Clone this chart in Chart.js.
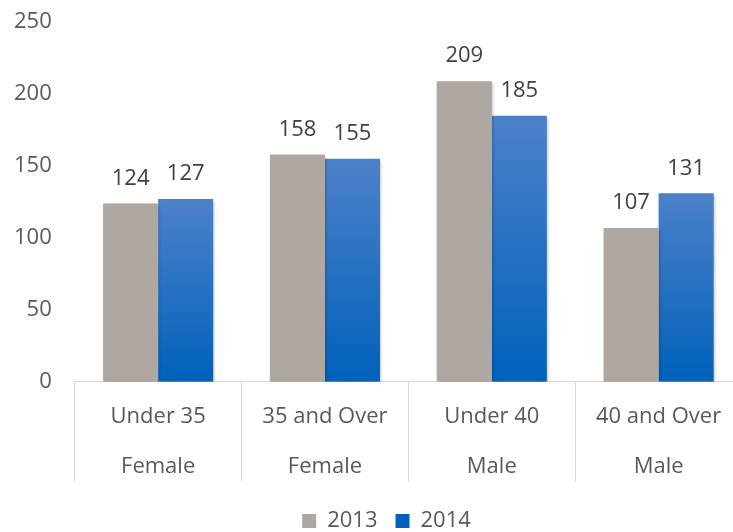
<!DOCTYPE html>
<html>
<head>
<meta charset="utf-8">
<title>Bar chart 2013 vs 2014</title>
<script src="https://cdn.jsdelivr.net/npm/chart.js"></script>
<style>
  html, body { margin: 0; padding: 0; background: #fff; overflow: hidden; }
  #wrap { width: 733px; height: 532px; overflow: hidden; }
</style>
</head>
<body>
<div id="wrap">
  <canvas id="ageChart" width="776" height="532"></canvas>
</div>
<script>
// data
const ageGroups = ['Under 35', '35 and Over', 'Under 40', '40 and Over'];
const genders = ['Female', 'Female', 'Male', 'Male'];
const seriesNames = ['2013', '2014'];
const values2013 = [124, 158, 209, 107];
const values2014 = [127, 155, 185, 131];
const yMin = 0, yMax = 250, yStep = 50;

const labels = ageGroups.map((g, i) => [g, genders[i]]);

const grayBar = '#aea7a2';
const blueTop = '#4c81c9';
const blueBottom = '#0061bb';
const fontSize = 22;

// each blue bar gets its own vertical gradient (light at the top)
function blueFill(context) {
  const chart = context.chart;
  if (context.type !== 'data' || !chart.chartArea) return '#1e66c1';
  const y = chart.scales.y;
  const top = y.getPixelForValue(context.parsed.y);
  const bottom = y.getPixelForValue(0);
  const g = chart.ctx.createLinearGradient(0, top, 0, bottom);
  g.addColorStop(0, blueTop);
  g.addColorStop(1, blueBottom);
  return g;
}

// soft drop shadow under the bars
const barShadow = {
  id: 'barShadow',
  beforeDatasetsDraw(chart) {
    const ctx = chart.ctx;
    ctx.save();
    ctx.shadowColor = 'rgba(0, 0, 0, 0.3)';
    ctx.shadowBlur = 3;
    ctx.shadowOffsetX = 1;
    ctx.shadowOffsetY = 2;
  },
  afterDatasetsDraw(chart) {
    chart.ctx.restore();
  }
};

// value labels above each bar
const valueLabels = {
  id: 'valueLabels',
  afterDatasetsDraw(chart) {
    const ctx = chart.ctx;
    ctx.save();
    ctx.font = fontSize + 'px "Open Sans"';
    ctx.fillStyle = '#404040';
    ctx.textAlign = 'center';
    ctx.textBaseline = 'middle';
    chart.data.datasets.forEach((ds, di) => {
      chart.getDatasetMeta(di).data.forEach((bar, i) => {
        ctx.fillText(ds.data[i], bar.x, bar.y - 25);
      });
    });
    ctx.restore();
  }
};

// nudge the legend so it sits under the middle of the visible plot
const legendShift = {
  id: 'legendShift',
  afterLayout(chart) {
    chart.legend.left += 16;
    chart.legend.right += 16;
  }
};

const ctx = document.getElementById('ageChart').getContext('2d');
new Chart(ctx, {
  type: 'bar',
  data: {
    labels: labels,
    datasets: [
      {
        label: seriesNames[0],
        data: values2013,
        backgroundColor: grayBar,
        barPercentage: 1,
        categoryPercentage: 0.66
      },
      {
        label: seriesNames[1],
        data: values2014,
        backgroundColor: blueFill,
        barPercentage: 1,
        categoryPercentage: 0.66
      }
    ]
  },
  options: {
    responsive: false,
    animation: false,
    layout: {
      padding: { top: 0, left: -1, right: 34, bottom: -10 }
    },
    scales: {
      x: {
        grid: {
          display: true,
          drawOnChartArea: false,
          drawTicks: true,
          tickLength: 100,
          offset: true,
          color: '#d9d9d9'
        },
        border: { display: true, color: '#d9d9d9' },
        ticks: {
          color: '#595959',
          padding: -90,
          font: { family: 'Open Sans', size: fontSize, lineHeight: 50 / fontSize }
        },
        // empty title only reserves the room under the two label rows
        title: {
          display: true,
          text: '',
          padding: { top: 65, bottom: 0 },
          font: { family: 'Open Sans', size: 21 }
        }
      },
      y: {
        min: yMin,
        max: yMax,
        grid: { display: false },
        border: { display: false },
        ticks: {
          stepSize: yStep,
          color: '#595959',
          padding: 15,
          font: { family: 'Open Sans', size: fontSize }
        },
        afterFit(scale) {
          scale.paddingTop = scale.paddingTop - 6;
        }
      }
    },
    plugins: {
      legend: {
        position: 'bottom',
        labels: {
          boxWidth: 14,
          boxHeight: 14,
          padding: 18,
          color: '#595959',
          font: { family: 'Open Sans', size: fontSize }
        }
      },
      tooltip: { enabled: false }
    }
  },
  plugins: [barShadow, valueLabels, legendShift]
});
</script>
</body>
</html>
